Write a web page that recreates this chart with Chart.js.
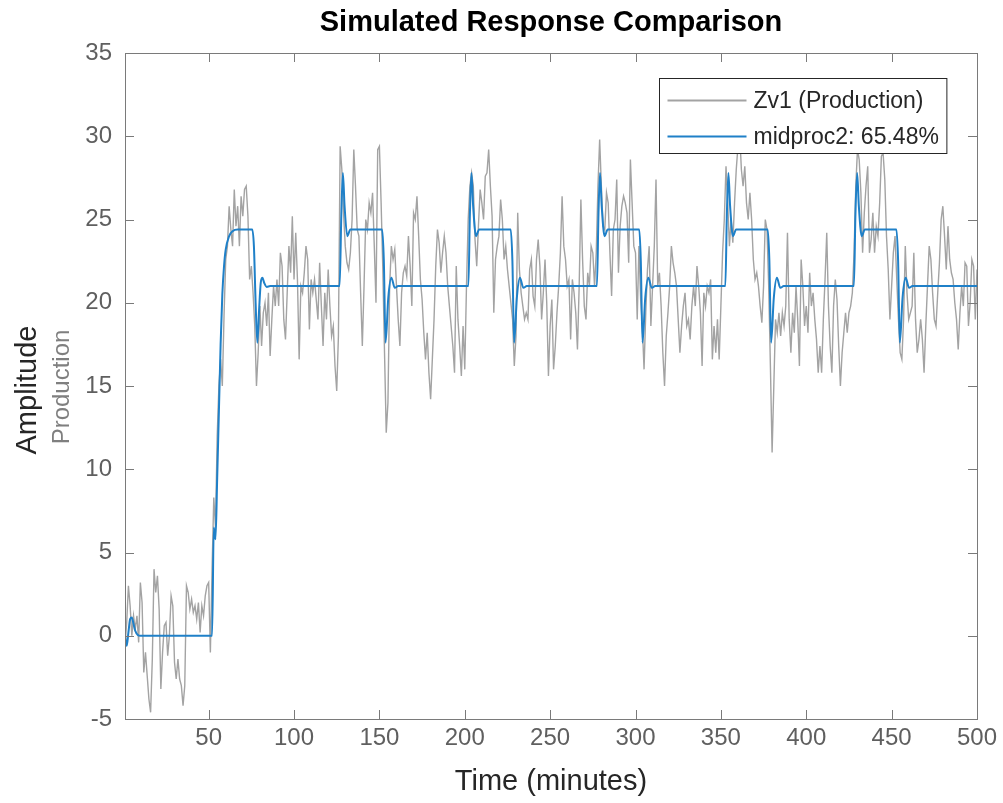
<!DOCTYPE html>
<html>
<head>
<meta charset="utf-8">
<script src="https://cdn.jsdelivr.net/npm/chart.js@4.4.0/dist/chart.umd.min.js"></script>
<style>
  html, body { margin: 0; padding: 0; background: #fff; }
  canvas { display: block; }
</style>
</head>
<body>
<canvas id="chart" width="1003" height="803"></canvas>
<script>
var measuredStart = 1
var measuredStep = 1
var measured = [
  -0.6, 0.8, 3.0, 1.8, 0.0, 1.2, 0.4, 1.2, -0.4, 3.2,
  2.0, -2.2, -1.0, -2.4, -3.8, -4.6, -1.4, 4.0, 2.6, 3.6,
  1.6, -3.2, -1.0, 0.6, 0.8, -1.2, 0.0, 2.4, 1.8, -1.6,
  -2.6, -1.4, -2.6, -3.0, -4.2, -3.0, 3.0, 2.6, 1.6, 2.2,
  1.4, 1.8, 1.0, 2.0, 0.2, 1.8, 1.2, 2.4, 3.0, 3.2,
  -1.0, 4.0, 8.3, 6.5, 12.0, 15.0, 16.6, 15.0, 19.2, 22.6,
  23.4, 25.8, 24.4, 23.4, 26.8, 24.6, 25.8, 23.4, 26.4, 25.2,
  26.8, 27.0, 25.2, 21.4, 22.2, 20.6, 18.6, 15.0, 17.0, 19.8,
  17.4, 19.4, 20.0, 18.6, 20.6, 16.8, 19.0, 21.0, 19.8, 21.4,
  19.8, 23.0, 22.2, 19.0, 17.8, 20.6, 23.4, 21.8, 25.2, 21.4,
  24.2, 21.4, 16.6, 21.0, 20.6, 21.8, 23.4, 22.6, 18.4, 21.4,
  20.6, 21.4, 20.2, 19.0, 22.4, 19.8, 17.4, 20.6, 19.0, 22.0,
  19.8, 18.0, 18.6, 16.2, 14.7, 18.0, 29.4, 28.0, 25.4, 23.4,
  22.4, 22.0, 23.0, 25.0, 29.2, 27.0, 24.4, 24.0, 20.6, 17.4,
  21.0, 25.0, 24.4, 26.0, 25.4, 26.6, 23.4, 20.0, 29.2, 29.4,
  26.0, 22.0, 17.0, 12.2, 14.0, 21.0, 23.4, 22.6, 23.2, 21.0,
  19.0, 17.4, 20.6, 21.8, 22.2, 21.6, 24.0, 22.2, 19.8, 25.4,
  25.0, 26.4, 24.0, 21.4, 20.2, 18.2, 16.6, 18.2, 15.8, 14.2,
  16.6, 19.0, 22.2, 24.4, 23.6, 21.8, 23.0, 24.0, 23.0, 21.0,
  19.8, 18.6, 17.4, 15.8, 22.2, 19.0, 17.4, 15.6, 18.6, 16.0,
  21.0, 25.0, 27.0, 27.8, 27.0, 23.8, 22.2, 24.6, 26.8, 26.0,
  25.0, 27.6, 27.8, 29.2, 27.0, 25.2, 19.4, 22.6, 23.4, 24.0,
  26.2, 25.0, 22.6, 23.4, 22.0, 21.0, 20.0, 19.0, 16.2, 18.0,
  25.4, 22.0, 20.6, 19.8, 19.0, 19.4, 19.0, 22.0, 22.6, 20.4,
  19.8, 22.6, 23.8, 22.2, 19.0, 20.6, 22.6, 20.0, 15.6, 18.6,
  20.2, 16.0, 17.4, 19.4, 21.0, 23.0, 26.4, 23.4, 22.6, 21.0,
  21.4, 17.8, 21.4, 20.6, 19.4, 17.2, 21.0, 26.2, 22.6, 19.8,
  19.0, 21.8, 21.0, 23.4, 23.0, 21.0, 23.0, 27.0, 29.8, 27.0,
  24.6, 24.4, 26.6, 26.0, 23.0, 20.4, 24.4, 25.0, 27.4, 21.8,
  24.6, 25.8, 26.4, 26.0, 25.4, 22.4, 28.6, 26.0, 23.4, 23.0,
  19.0, 23.4, 20.2, 18.6, 16.0, 19.4, 22.0, 23.4, 18.6, 21.0,
  23.4, 27.4, 21.0, 21.8, 19.8, 17.0, 15.0, 18.0, 19.4, 21.0,
  23.4, 22.4, 21.8, 21.0, 19.0, 17.0, 18.6, 19.8, 20.6, 18.6,
  19.0, 17.8, 19.8, 21.0, 19.8, 22.2, 21.0, 19.4, 16.2, 20.6,
  19.8, 21.0, 20.6, 21.4, 16.6, 18.6, 17.0, 19.0, 16.6, 19.8,
  23.0, 25.0, 28.2, 26.0, 23.4, 25.0, 23.6, 26.0, 28.0, 29.4,
  30.2, 28.0, 27.0, 28.2, 26.0, 25.0, 26.6, 25.0, 22.6, 21.4,
  21.8, 21.0, 19.8, 18.8, 21.0, 25.0, 24.4, 21.0, 16.2, 11.0,
  15.0, 19.0, 18.2, 19.4, 18.0, 19.4, 18.6, 19.8, 24.2, 19.0,
  17.0, 19.4, 18.2, 21.0, 19.0, 16.2, 22.6, 21.0, 18.6, 19.8,
  18.2, 21.8, 19.8, 20.6, 19.0, 17.8, 15.8, 17.4, 15.8, 19.0,
  21.4, 24.2, 19.8, 17.4, 15.8, 19.8, 21.4, 20.2, 17.4, 15.0,
  17.0, 18.2, 19.4, 18.2, 19.4, 19.8, 20.6, 23.0, 27.0, 29.2,
  28.6, 26.6, 23.0, 25.4, 27.0, 28.2, 23.0, 23.8, 25.4, 23.0,
  24.6, 24.0, 26.0, 28.8, 29.0, 27.4, 24.0, 22.0, 19.0, 21.0,
  23.0, 24.0, 21.4, 19.0, 17.0, 16.6, 19.0, 23.4, 20.6, 19.0,
  19.4, 19.8, 23.0, 19.0, 17.0, 17.8, 19.0, 17.8, 15.8, 18.6,
  21.0, 23.4, 22.6, 20.6, 19.0, 18.6, 20.6, 22.4, 25.0, 25.8,
  24.0, 22.0, 24.6, 22.6, 21.8, 21.4, 20.0, 19.0, 17.2, 19.4,
  21.0, 19.8, 22.4, 22.2, 18.6, 20.0, 22.6, 22.2, 19.0, 22.0
]

// Simulated model output (midproc2)
var simTimes = [
  1, 2, 3, 4, 5, 6, 7, 8.5, 10, 52,
  53, 54, 55, 56, 57, 58, 59, 60, 62, 64, 67,
  75.5, 76.5, 77.5, 78.5, 79.5, 80.5, 81.5, 82.5, 84, 86,
  126.7, 127.7, 128.6, 129.6, 131.2, 133,
  151.6, 152.6, 153.6, 155.2, 157, 159, 161,
  202.1, 203, 203.9, 204.9, 206.6, 208.4,
  226.9, 227.9, 228.9, 230.5, 232.3, 234.3, 236.3,
  277.4, 278.3, 279.2, 280.2, 281.9, 283.7,
  302.2, 303.1, 304.1, 305.7, 307.5, 309.5, 311.5,
  352.6, 353.5, 354.4, 355.4, 357.1, 358.9,
  377.4, 378.4, 379.4, 381, 382.8, 384.8, 386.8,
  427.9, 428.8, 429.8, 430.8, 432.5, 434.3,
  452.8, 453.8, 454.8, 456.4, 458.2, 460.2, 462.2,
  500
]
var simValues = [
  0, -0.6, 0.2, 1.0, 1.1, 0.7, 0.3, 0.05, 0, 0,
  6.5, 5.8, 9.5, 13.5, 17.5, 20.5, 22.2, 23.2, 24.0, 24.3, 24.4,
  24.4, 23.4, 20.0, 17.6, 19.5, 21.2, 21.5, 21.2, 20.95, 21,
  21, 25.3, 27.8, 25.8, 24.0, 24.4,
  24.4, 22.5, 17.6, 20.3, 21.5, 20.9, 21,
  21, 25.3, 27.8, 25.8, 24.0, 24.4,
  24.4, 22.5, 17.6, 20.3, 21.5, 20.9, 21,
  21, 25.3, 27.8, 25.8, 24.0, 24.4,
  24.4, 22.5, 17.6, 20.3, 21.5, 20.9, 21,
  21, 25.3, 27.8, 25.8, 24.0, 24.4,
  24.4, 22.5, 17.6, 20.3, 21.5, 20.9, 21,
  21, 25.3, 27.8, 25.8, 24.0, 24.4,
  24.4, 22.5, 17.6, 20.3, 21.5, 20.9, 21,
  21
]

var xTicks = [50, 100, 150, 200, 250, 300, 350, 400, 450, 500]
var yTicks = [-5, 0, 5, 10, 15, 20, 25, 30, 35]

var seriesNames = ["Zv1 (Production)", "midproc2: 65.48%"]
var seriesColors = ["#a3a3a3", "#1f80c8"]

var measuredPoints = measured.map(function(v, i) {
  return {x: measuredStart + i * measuredStep, y: v}
})
var simPoints = simTimes.map(function(t, i) {
  return {x: t, y: simValues[i]}
})

var fontFamily = "'Liberation Sans', Arial, sans-serif"
var tickColor = "#5f5f5f"
var boxColor = "#7a7a7a"

// MATLAB style axes: box, inward ticks, titles and an inside legend
var matlabLook = {
  id: "matlabLook",
  beforeDraw: function(chart) {
    var ctx = chart.ctx
    ctx.save()
    ctx.fillStyle = "#fff"
    ctx.fillRect(0, 0, chart.width, chart.height)
    ctx.restore()
  },
  afterDraw: function(chart) {
    var ctx = chart.ctx
    var a = chart.chartArea
    var xs = chart.scales.x
    var ys = chart.scales.y
    var tl = 9
    ctx.save()
    ctx.strokeStyle = boxColor
    ctx.lineWidth = 1
    ctx.beginPath()
    xTicks.forEach(function(v) {
      var px = Math.round(xs.getPixelForValue(v)) + 0.5
      ctx.moveTo(px, a.bottom); ctx.lineTo(px, a.bottom - tl)
      ctx.moveTo(px, a.top); ctx.lineTo(px, a.top + tl)
    })
    yTicks.forEach(function(v) {
      var py = Math.round(ys.getPixelForValue(v)) + 0.5
      ctx.moveTo(a.left, py); ctx.lineTo(a.left + tl, py)
      ctx.moveTo(a.right, py); ctx.lineTo(a.right - tl, py)
    })
    ctx.stroke()
    ctx.strokeRect(Math.round(a.left) + 0.5, Math.round(a.top) + 0.5,
      Math.round(a.right - a.left), Math.round(a.bottom - a.top))

    // titles
    var cx = (a.left + a.right) / 2
    ctx.fillStyle = "#000"
    ctx.textAlign = "center"
    ctx.textBaseline = "middle"
    ctx.font = "bold 29px " + fontFamily
    ctx.fillText("Simulated Response Comparison", cx, 23)

    ctx.fillStyle = "#262626"
    ctx.font = "29px " + fontFamily
    ctx.fillText("Time (minutes)", cx, 782)

    var cy = (a.top + a.bottom) / 2
    ctx.save()
    ctx.translate(28, cy + 4)
    ctx.rotate(-Math.PI / 2)
    ctx.fillText("Amplitude", 0, 0)
    ctx.restore()
    ctx.save()
    ctx.translate(62, cy + 1)
    ctx.rotate(-Math.PI / 2)
    ctx.fillStyle = "#7f7f7f"
    ctx.font = "24px " + fontFamily
    ctx.fillText("Production", 0, 0)
    ctx.restore()

    // legend
    ctx.font = "23px " + fontFamily
    var tw = Math.max.apply(null, seriesNames.map(function(s) { return ctx.measureText(s).width }))
    var lineLen = 79
    var w = 8 + lineLen + 7 + tw + 8
    var h = 75
    var lx = Math.round(a.right - 31 - w) + 0.5
    var ly = Math.round(a.top + 25) + 0.5
    ctx.fillStyle = "#fff"
    ctx.fillRect(lx, ly, w, h)
    ctx.strokeStyle = "#262626"
    ctx.strokeRect(lx, ly, w, h)
    ctx.textAlign = "left"
    ctx.textBaseline = "middle"
    seriesNames.forEach(function(name, i) {
      var ry = ly + 22 + i * 36
      ctx.strokeStyle = seriesColors[i]
      ctx.lineWidth = 2
      ctx.beginPath()
      ctx.moveTo(lx + 8, ry); ctx.lineTo(lx + 8 + lineLen, ry)
      ctx.stroke()
      ctx.fillStyle = "#262626"
      ctx.fillText(name, lx + 8 + lineLen + 7, ry + 1)
    })
    ctx.restore()
  }
}

new Chart(document.getElementById("chart"), {
  type: "line",
  data: {
    datasets: [
      {
        label: seriesNames[0],
        data: measuredPoints,
        borderColor: seriesColors[0],
        borderWidth: 1.4,
        pointRadius: 0,
        tension: 0,
        fill: false,
        order: 2,
      },
      {
        label: seriesNames[1],
        data: simPoints,
        borderColor: seriesColors[1],
        borderWidth: 2,
        pointRadius: 0,
        cubicInterpolationMode: "monotone",
        fill: false,
        order: 1,
      },
    ],
  },
  options: {
    responsive: false,
    animation: false,
    events: [],
    layout: {padding: {top: 53, right: 26, left: 0, bottom: 0}},
    plugins: {
      legend: {display: false},
      title: {display: false},
      tooltip: {enabled: false},
    },
    scales: {
      x: {
        type: "linear",
        min: 1,
        max: 500,
        grid: {display: false, drawTicks: false},
        border: {display: false},
        ticks: {font: {family: fontFamily, size: 24}, color: tickColor, padding: 5, maxRotation: 0},
        afterBuildTicks: function(s) { s.ticks = xTicks.map(function(v) { return {value: v} }) },
        afterFit: function(s) { s.height = 84 },
      },
      y: {
        min: -5,
        max: 35,
        grid: {display: false, drawTicks: false},
        border: {display: false},
        ticks: {font: {family: fontFamily, size: 24}, color: tickColor, padding: 13},
        afterBuildTicks: function(s) { s.ticks = yTicks.map(function(v) { return {value: v} }) },
        afterFit: function(s) { s.width = 125 },
      },
    },
  },
  plugins: [matlabLook],
})
</script>
</body>
</html>
